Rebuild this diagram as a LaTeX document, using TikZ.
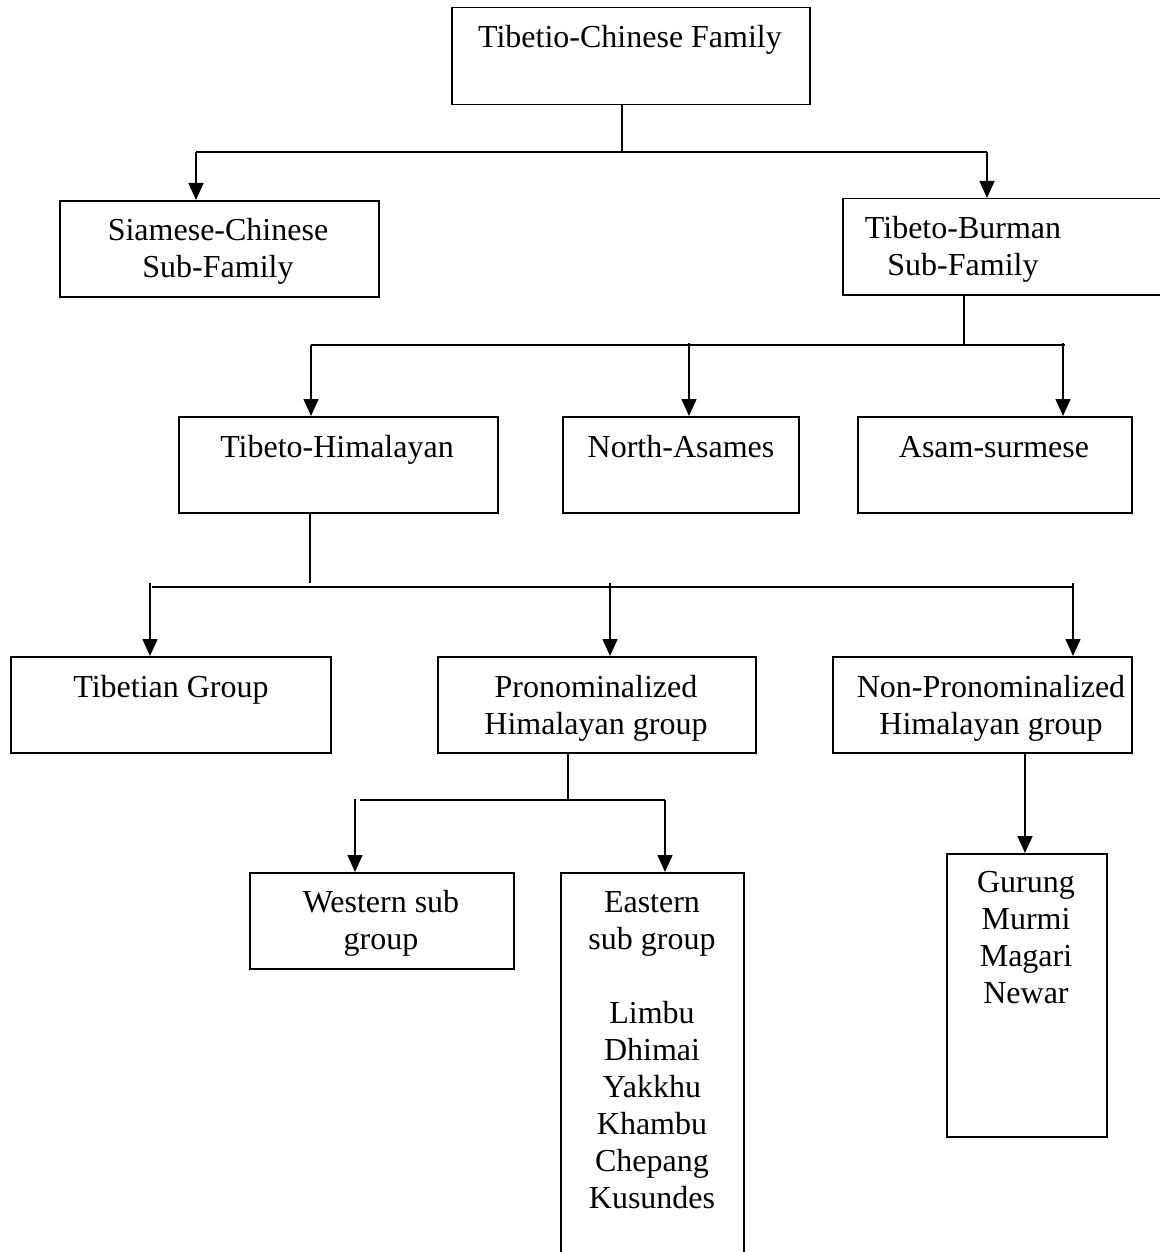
\documentclass[tikz,border=0pt]{standalone}
\usepackage{fontspec}
\setmainfont{Liberation Serif}
\usetikzlibrary{arrows.meta}
\begin{document}
\begin{tikzpicture}[x=1pt,y=-1pt,
  box/.style={draw,line width=1.5pt,inner sep=0pt,anchor=north west},
  lbl/.style={inner sep=0pt,anchor=base,font=\fontsize{32}{37}\selectfont},
  conn/.style={line width=1.5pt},
  arr/.style={line width=1.5pt,-{Triangle[length=17pt,width=15pt]}}]
\useasboundingbox (0,0) rectangle (1159,1252);
\fill[white] (0,0) rectangle (1159,1252);
% boxes
\node[box,minimum width=358pt,minimum height=97pt] (top) at (451,7) {};
\node[box,minimum width=319pt,minimum height=96pt] (sia) at (59,200) {};
\node[box,minimum width=330pt,minimum height=96pt] (tb) at (842,198) {};
\node[box,minimum width=319pt,minimum height=96pt] (th) at (178,416) {};
\node[box,minimum width=236pt,minimum height=96pt] (na) at (562,416) {};
\node[box,minimum width=274pt,minimum height=96pt] (as) at (857,416) {};
\node[box,minimum width=320pt,minimum height=96pt] (tg) at (10,656) {};
\node[box,minimum width=318pt,minimum height=96pt] (ph) at (437,656) {};
\node[box,minimum width=299pt,minimum height=96pt] (nph) at (832,656) {};
\node[box,minimum width=264pt,minimum height=96pt] (ws) at (249,872) {};
\node[box,minimum width=183pt,minimum height=400pt] (es) at (560,872) {};
\node[box,minimum width=160pt,minimum height=283pt] (gm) at (946,853) {};
% texts
\node[lbl] (ttop) at (630,48) {Tibetio-Chinese Family};
\node[lbl] (tsia) at (218,240) {\begin{tabular}[t]{@{}c@{}}Siamese-Chinese\\Sub-Family\end{tabular}};
\node[lbl] (ttb) at (963,238) {\begin{tabular}[t]{@{}c@{}}Tibeto-Burman\\Sub-Family\end{tabular}};
\node[lbl] (tth) at (337,457) {Tibeto-Himalayan};
\node[lbl] (tna) at (681,457) {North-Asames};
\node[lbl] (tas) at (994,457) {Asam-surmese};
\node[lbl] (ttg) at (171,697) {Tibetian Group};
\node[lbl] (tph) at (596,697) {\begin{tabular}[t]{@{}c@{}}Pronominalized\\Himalayan group\end{tabular}};
\node[lbl] (tnph) at (991,697) {\begin{tabular}[t]{@{}c@{}}Non-Pronominalized\\Himalayan group\end{tabular}};
\node[lbl] (tws) at (381,912) {\begin{tabular}[t]{@{}c@{}}Western sub\\group\end{tabular}};
\node[lbl] (tes) at (652,912) {\begin{tabular}[t]{@{}c@{}}Eastern\\sub group\\ \\Limbu\\Dhimai\\Yakkhu\\Khambu\\Chepang\\Kusundes\end{tabular}};
\node[lbl] (tgm) at (1026,892) {\begin{tabular}[t]{@{}c@{}}Gurung\\Murmi\\Magari\\Newar\end{tabular}};
% level 1
\coordinate (j1) at (622,152);
\coordinate (j1l) at (196,152);
\coordinate (j1r) at (987,152);
\draw[conn] (top.south -| j1) -- (j1);
\draw[conn] (j1l) -- (j1r);
\draw[arr] (j1l) -- (j1l |- sia.north);
\draw[arr] (j1r) -- (j1r |- tb.north);
% level 2
\coordinate (j2) at (964,345);
\coordinate (j2a) at (311,345);
\coordinate (j2b) at (689,343);
\coordinate (j2c) at (1063,343);
\coordinate (j2e) at (1065,345);
\draw[conn] (tb.south -| j2) -- (j2);
\draw[conn] (j2a) -- (j2e);
\draw[arr] (j2a) -- (j2a |- th.north);
\draw[arr] (j2b) -- (j2b |- na.north);
\draw[arr] (j2c) -- (j2c |- as.north);
% level 3
\coordinate (j3) at (310,583);
\coordinate (j3s) at (152,587);
\coordinate (j3e) at (1073,587);
\coordinate (j3a) at (150,583);
\coordinate (j3b) at (610,583);
\coordinate (j3c) at (1073,583);
\draw[conn] (th.south -| j3) -- (j3);
\draw[conn] (j3s) -- (j3e);
\draw[arr] (j3a) -- (j3a |- tg.north);
\draw[arr] (j3b) -- (j3b |- ph.north);
\draw[arr] (j3c) -- (j3c |- nph.north);
% level 4
\coordinate (j4) at (568,800);
\coordinate (j4s) at (360,800);
\coordinate (j4a) at (355,799);
\coordinate (j4b) at (665,800);
\draw[conn] (ph.south -| j4) -- (j4);
\draw[conn] (j4s) -- (j4b);
\draw[arr] (j4a) -- (j4a |- ws.north);
\draw[arr] (j4b) -- (j4b |- es.north);
% level 5
\coordinate (j5) at (1025,0);
\draw[arr] (nph.south -| j5) -- (gm.north -| j5);
\end{tikzpicture}
\end{document}
